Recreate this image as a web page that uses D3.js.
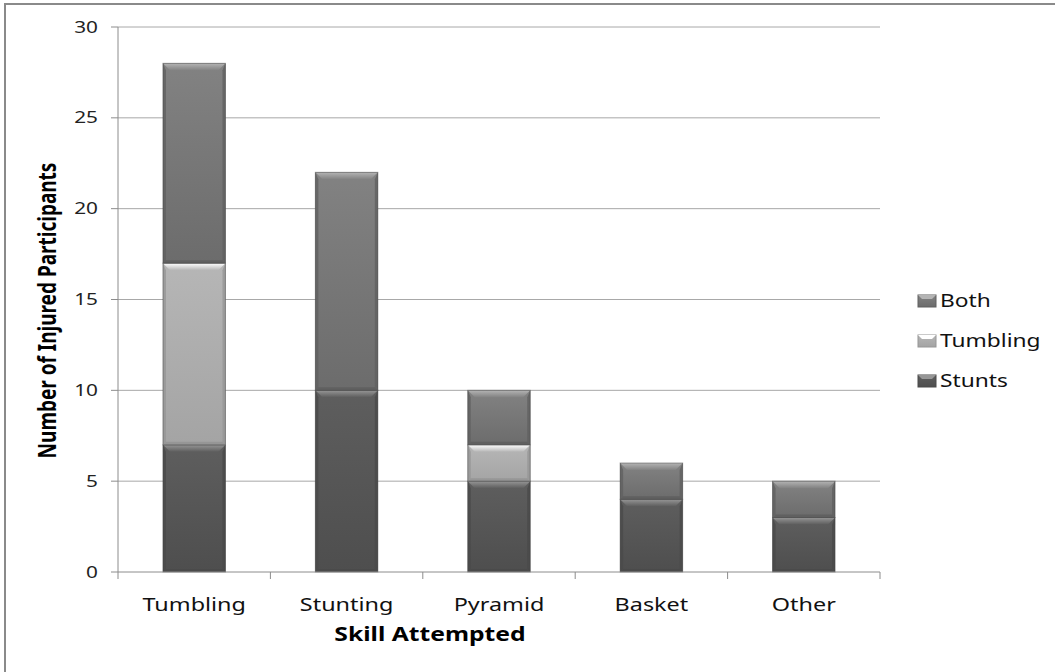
<!DOCTYPE html>
<html>
<head>
<meta charset="utf-8">
<script src="https://cdn.jsdelivr.net/npm/d3@7"></script>
<style>
  body { margin: 0; background: #fff; }
  svg { display: block; font-family: 'Noto Sans', sans-serif; }
</style>
</head>
<body>
<svg id="chart" width="1055" height="672"></svg>
<script>
const categories = ['Tumbling', 'Stunting', 'Pyramid', 'Basket', 'Other']
const stunts = [7, 10, 5, 4, 3]
const tumbling = [10, 0, 2, 0, 0]
const both = [11, 12, 3, 2, 2]
const yTicks = [0, 5, 10, 15, 20, 25, 30]
const seriesNames = ['Stunts', 'Tumbling', 'Both']

// text in the reference is stretched sideways
const sx = 1.3
const plot = { left: 118, right: 880, top: 27, bottom: 572 }

const palette = {
  Stunts: { base: '#5e5e5e', dark: '#4e4e4e', top: '#969696', edge: '#4a4a4a' },
  Tumbling: { base: '#b6b6b6', dark: '#a4a4a4', top: '#ffffff', edge: '#969696' },
  Both: { base: '#828282', dark: '#6c6c6c', top: '#b4b4b4', edge: '#606060' }
}

const rows = categories.map((c, i) => ({ cat: c, Stunts: stunts[i], Tumbling: tumbling[i], Both: both[i] }))
const stacked = d3.stack().keys(seriesNames)(rows)

const svg = d3.select('#chart')

// outer frame
svg.append('rect').attr('x', 5).attr('y', 4).attr('width', 1100).attr('height', 700)
  .attr('fill', 'none').attr('stroke', '#8a8a8a').attr('stroke-width', 2)

const x = d3.scaleBand().domain(categories).range([plot.left, plot.right]).paddingInner(0.59).paddingOuter(0.295)
const y = d3.scaleLinear().domain([0, 30]).range([plot.bottom, plot.top])

const defs = svg.append('defs')
seriesNames.forEach((k) => {
  const g = defs.append('linearGradient').attr('id', 'g-' + k).attr('x1', 0).attr('y1', 0).attr('x2', 0).attr('y2', 1)
  g.append('stop').attr('offset', 0).attr('stop-color', palette[k].base)
  g.append('stop').attr('offset', 1).attr('stop-color', palette[k].dark)
  const t = defs.append('linearGradient').attr('id', 't-' + k).attr('x1', 0).attr('y1', 0).attr('x2', 0).attr('y2', 1)
  t.append('stop').attr('offset', 0).attr('stop-color', palette[k].top)
  t.append('stop').attr('offset', 1).attr('stop-color', palette[k].base)
})

// gridlines
svg.append('g').selectAll('line').data(yTicks.filter((t) => t > 0)).join('line')
  .attr('x1', plot.left).attr('x2', plot.right)
  .attr('y1', (d) => y(d)).attr('y2', (d) => y(d))
  .attr('stroke', '#a8a8a8').attr('stroke-width', 1)

// y axis
const yAxis = svg.append('g')
yAxis.append('line').attr('x1', plot.left).attr('x2', plot.left).attr('y1', y(0)).attr('y2', y(30)).attr('stroke', '#8c8c8c')
yAxis.selectAll('line.tick').data(yTicks).join('line').attr('class', 'tick')
  .attr('x1', plot.left - 7).attr('x2', plot.left).attr('y1', (d) => y(d)).attr('y2', (d) => y(d)).attr('stroke', '#8c8c8c')
yAxis.selectAll('text').data(yTicks).join('text')
  .attr('transform', (d) => `translate(${plot.left - 20},${y(d) + 5.5}) scale(${sx},1)`)
  .attr('text-anchor', 'end').attr('font-size', 16).attr('fill', '#222')
  .text((d) => d)

// bars
const bev = 7
const side = 3
const barGroup = svg.append('g')
stacked.forEach((layer) => {
  const k = layer.key
  const c = palette[k]
  layer.forEach((d, i) => {
    if (d[1] - d[0] <= 0) return
    const x0 = x(categories[i])
    const x1 = x0 + x.bandwidth()
    const y0 = y(d[1])
    const y1 = y(d[0])
    const b = Math.min(bev, (y1 - y0) / 2)
    const g = barGroup.append('g')
    g.append('rect').attr('x', x0).attr('y', y0).attr('width', x1 - x0).attr('height', y1 - y0).attr('fill', `url(#g-${k})`)
    g.append('path').attr('d', `M${x0},${y0}L${x1},${y0}L${x1 - b},${y0 + b}L${x0 + b},${y0 + b}Z`).attr('fill', `url(#t-${k})`)
    g.append('path').attr('d', `M${x0},${y0}L${x0 + side},${y0 + b}L${x0 + side},${y1 - side}L${x0},${y1}Z`).attr('fill', c.edge).attr('opacity', 0.8)
    g.append('path').attr('d', `M${x1},${y0}L${x1 - side},${y0 + b}L${x1 - side},${y1 - side}L${x1},${y1}Z`).attr('fill', c.edge).attr('opacity', 0.8)
    g.append('path').attr('d', `M${x0},${y1}L${x0 + side},${y1 - side}L${x1 - side},${y1 - side}L${x1},${y1}Z`).attr('fill', c.edge)
    g.append('rect').attr('x', x0).attr('y', y0).attr('width', x1 - x0).attr('height', y1 - y0)
      .attr('fill', 'none').attr('stroke', '#444').attr('stroke-opacity', 0.5).attr('stroke-width', 1)
  })
})

// x axis
const xAxis = svg.append('g')
xAxis.append('line').attr('x1', plot.left).attr('x2', plot.right).attr('y1', y(0)).attr('y2', y(0)).attr('stroke', '#8c8c8c')
xAxis.selectAll('line.tick').data(d3.range(categories.length + 1)).join('line').attr('class', 'tick')
  .attr('x1', (i) => plot.left + i * x.step()).attr('x2', (i) => plot.left + i * x.step())
  .attr('y1', y(0)).attr('y2', y(0) + 7).attr('stroke', '#8c8c8c')
xAxis.selectAll('text').data(categories).join('text')
  .attr('transform', (d) => `translate(${x(d) + x.bandwidth() / 2},${y(0) + 39}) scale(${sx},1)`)
  .attr('text-anchor', 'middle').attr('font-size', 18).attr('fill', '#111')
  .text((d) => d)

// axis titles
svg.append('text')
  .attr('transform', `translate(430,${y(0) + 69}) scale(${sx},1)`)
  .attr('text-anchor', 'middle').attr('font-size', 19).attr('font-weight', 'bold').attr('fill', '#000')
  .text('Skill Attempted')
svg.append('text')
  .attr('transform', `translate(56,${(plot.top + plot.bottom) / 2 + 11}) scale(${sx},1) rotate(-90)`)
  .attr('text-anchor', 'middle').attr('font-size', 19).attr('font-weight', 'bold').attr('fill', '#000')
  .text('Number of Injured Participants')

// legend
const legendKeys = ['Both', 'Tumbling', 'Stunts']
const legend = svg.append('g').selectAll('g').data(legendKeys).join('g')
  .attr('transform', (d, i) => `translate(918,${295 + i * 40})`)
legend.append('rect').attr('width', 18).attr('height', 12).attr('fill', (d) => `url(#g-${d})`)
  .attr('stroke', (d) => palette[d].edge).attr('stroke-width', 1)
legend.append('path').attr('d', 'M0,0L18,0L14,4L4,4Z').attr('fill', (d) => palette[d].top)
legend.append('text')
  .attr('transform', `translate(22,12) scale(${sx},1)`)
  .attr('font-size', 17.5).attr('fill', '#111')
  .text((d) => d)
</script>
</body>
</html>
